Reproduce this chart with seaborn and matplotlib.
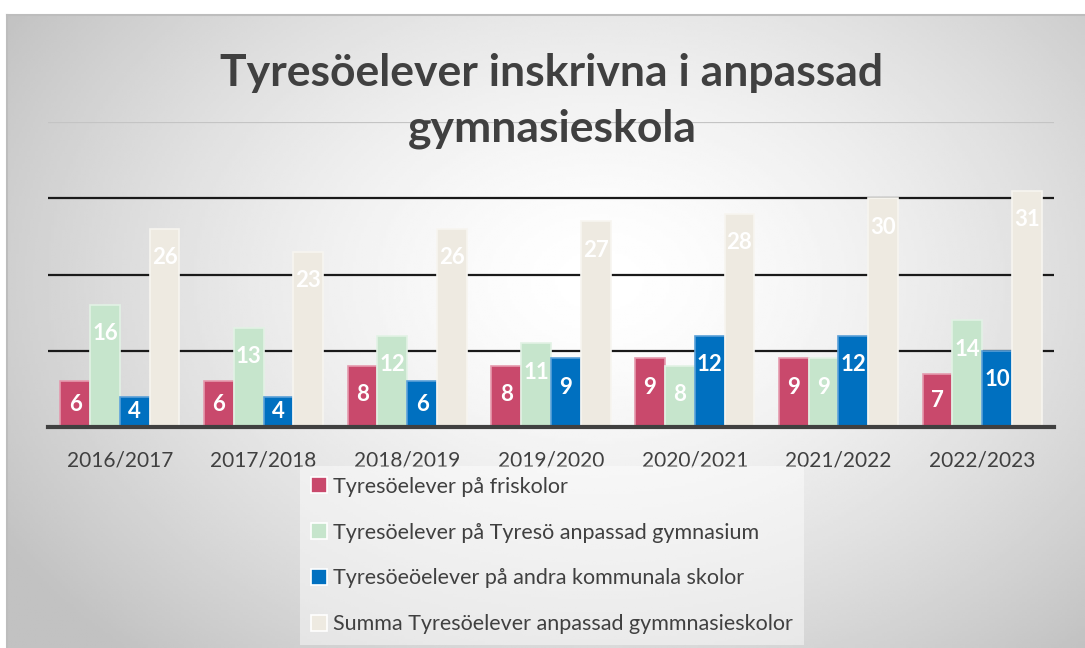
import numpy as np
import pandas as pd
import matplotlib
matplotlib.use("Agg")
import matplotlib.pyplot as plt
import seaborn as sns

# Data
years = ["2016/2017", "2017/2018", "2018/2019", "2019/2020",
         "2020/2021", "2021/2022", "2022/2023"]
friskolor = [6, 6, 8, 8, 9, 9, 7]
tyreso_gymnasium = [16, 13, 12, 11, 8, 9, 14]
andra_kommunala = [4, 4, 6, 9, 12, 12, 10]
summa = [26, 23, 26, 27, 28, 30, 31]

series_names = ["Tyresöelever på friskolor",
                "Tyresöelever på Tyresö anpassad gymnasium",
                "Tyresöeöelever på andra kommunala skolor",
                "Summa Tyresöelever anpassad gymmnasieskolor"]
colors = ["#C9496C", "#C6E5CC", "#0070C0", "#EEEAE1"]
edges = ["#E59AAE", "#E2F2E5", "#5AA0D8", "#F7F5F0"]

df = pd.DataFrame({
    "year": years * 4,
    "series": np.repeat(series_names, len(years)),
    "value": friskolor + tyreso_gymnasium + andra_kommunala + summa,
})

sns.set_style("white")
plt.rcParams["font.family"] = ["Lato", "DejaVu Sans"]

W, H = 1085, 648
fig = plt.figure(figsize=(W / 100, H / 100), dpi=100, facecolor="white")

# gradient background of the chart area
bg = fig.add_axes([7 / W, 0, 1 - 7 / W, 1 - 15 / H])
gx, gy = np.meshgrid(np.linspace(0, 1, 400), np.linspace(0, 1, 240))
r = np.sqrt(((gx - 0.55) / 0.65) ** 2 + ((gy - 0.42) / 0.8) ** 2)
grey = 1 - 0.24 * np.clip(r, 0, 1) ** 1.5
bg.imshow(grey, cmap="gray", vmin=0, vmax=1, aspect="auto", extent=[0, 1, 1, 0])
bg.set_xticks([])
bg.set_yticks([])
for s in ["right", "bottom"]:
    bg.spines[s].set_visible(False)
for s in ["top", "left"]:
    bg.spines[s].set_color("#bdbdbd")
    bg.spines[s].set_linewidth(1.5)

ax = fig.add_axes([48 / W, (H - 427) / H, 1006 / W, (427 - 122) / H])
ax.patch.set_alpha(0)

for g in [10, 20, 30]:
    ax.axhline(g, color="#1a1a1a", lw=1.6, zorder=0)
ax.axhline(40, color="#c4c4c4", lw=1.6, zorder=0)

sns.barplot(data=df, x="year", y="value", hue="series", palette=colors,
            saturation=1, width=0.83, gap=0, ax=ax, zorder=2, linewidth=1.2,
            legend=True)

for cont, ec in zip(ax.containers, edges):
    for bar in cont:
        bar.set_edgecolor(ec)
    for bar in cont:
        v = bar.get_height()
        ax.text(bar.get_x() + bar.get_width() / 2, max(v - 3.8, v / 2), f"{v:.0f}",
                ha="center", va="center", color="white", fontsize=16,
                fontweight="bold", zorder=3)

ax.set_ylim(0, 40)
ax.set_xlim(-0.5, len(years) - 0.5)
ax.set_xlabel("")
ax.set_ylabel("")
ax.set_yticks([])
ax.tick_params(axis="x", length=0, pad=17, labelsize=15, labelcolor="#404040")
for s in ["top", "right", "left"]:
    ax.spines[s].set_visible(False)
ax.spines["bottom"].set_color("#404040")
ax.spines["bottom"].set_linewidth(3)
ax.spines["bottom"].set_zorder(4)

handles, labels = ax.get_legend_handles_labels()
leg = ax.legend(handles, labels, loc="upper left",
                bbox_to_anchor=(300 / W, 1 - 466 / H), bbox_transform=fig.transFigure,
                frameon=True, fontsize=15.5, labelspacing=1.2, handlelength=0.75,
                handleheight=0.75, handletextpad=0.3, borderaxespad=0,
                borderpad=0.5, labelcolor="#404040")
leg.get_frame().set_facecolor("white")
leg.get_frame().set_alpha(0.45)
leg.get_frame().set_edgecolor("none")
leg.get_frame().set_boxstyle("square", pad=0)

fig.text(552 / W, 1 - 101 / H, "Tyresöelever inskrivna i anpassad\ngymnasieskola",
         ha="center", va="center", fontsize=32, fontweight="bold",
         color="#404040", linespacing=1.45)

fig.savefig("out.png", dpi=100, facecolor="white")
